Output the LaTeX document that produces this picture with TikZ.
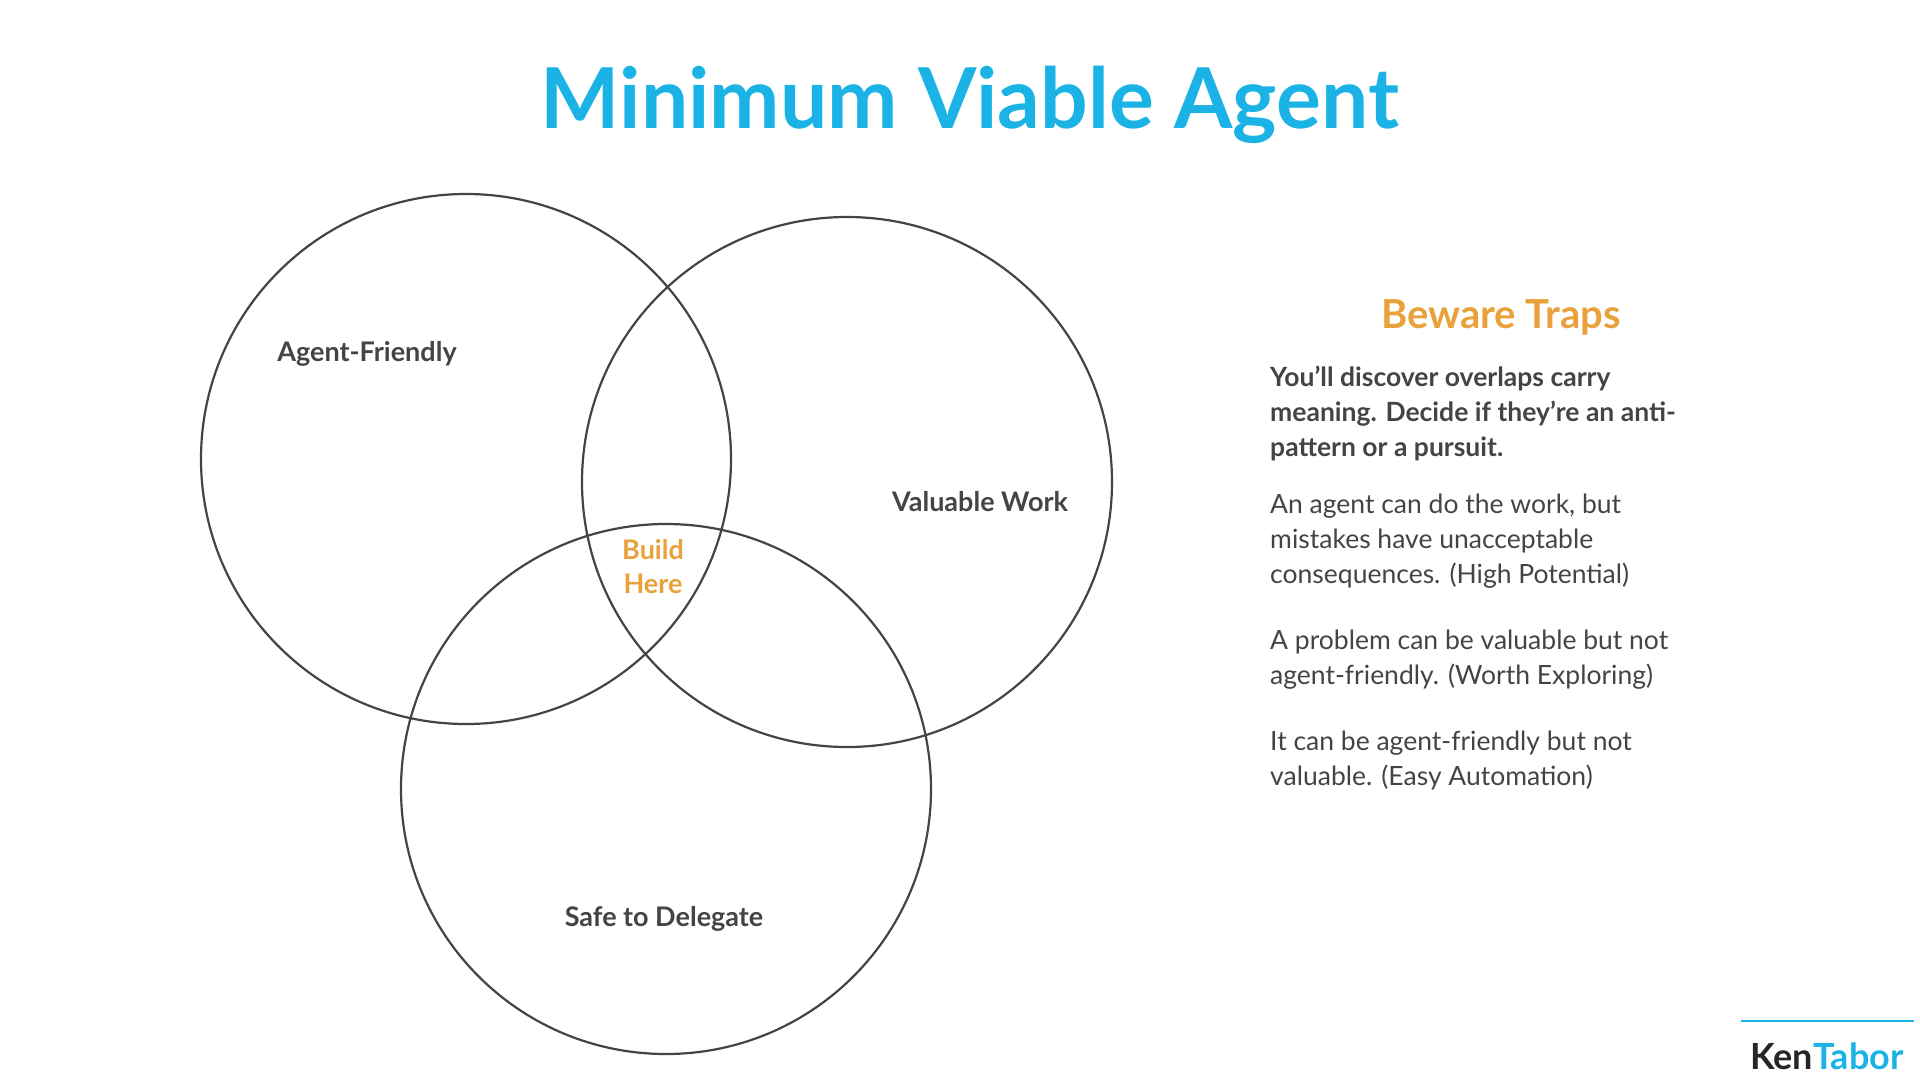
\documentclass[tikz,border=0pt]{standalone}
\usepackage{fontspec}
\setmainfont{Lato}
\definecolor{tblue}{HTML}{1BB3E6}
\definecolor{torange}{HTML}{E9A23B}
\definecolor{tgray}{HTML}{444444}
\begin{document}
\begin{tikzpicture}[x=1pt,y=-1pt,
  circ/.style={draw=tgray,line width=2.2pt},
  lab/.style={font=\fontsize{27}{32}\selectfont\bfseries,text=tgray},
  body/.style={anchor=north west,align=left,text=tgray,font=\fontsize{26.5}{35}\selectfont,inner sep=0pt}]
\useasboundingbox (0,0) rectangle (1920,1080);
\node[font=\fontsize{84}{90}\selectfont\bfseries,text=tblue] (title) at (970,105) {Minimum Viable Agent};
\draw[circ] (466,459) circle (265) coordinate (ca);
\draw[circ] (847,482) circle (265) coordinate (cb);
\draw[circ] (666,789) circle (265) coordinate (cc);
\node[lab] (af) at (367,354) {Agent-Friendly};
\node[lab] (vw) at (980,502) {Valuable Work};
\node[lab] (sd) at (664,919) {Safe to Delegate};
\node[lab,text=torange,align=center,font=\fontsize{27}{34}\selectfont\bfseries] (bh) at (653,567) {Build\\Here};
\node[font=\fontsize{40}{46}\selectfont\bfseries,text=torange] (bt) at (1501,317) {Beware Traps};
\node[body,font=\fontsize{26.5}{35}\selectfont\bfseries] (p1) at (1270,366) {You’ll discover overlaps carry\\meaning. Decide if they’re an anti-\\pattern or a pursuit.};
\node[body] (p2) at (1270,494) {An agent can do the work, but\\mistakes have unacceptable\\consequences. (High Potential)};
\node[body] (p3) at (1270,630) {A problem can be valuable but not\\agent-friendly. (Worth Exploring)};
\node[body] (p4) at (1270,731) {It can be agent-friendly but not\\valuable. (Easy Automation)};
\draw[tblue,line width=2pt] (1741,1021) coordinate (l1) -- (1914,1021) coordinate (l2);
\node[font=\fontsize{36}{40}\selectfont\bfseries,inner sep=0pt] (logo) at (1827,1056) {\textcolor{black!85}{Ken}\textcolor{tblue}{Tabor}};
\end{tikzpicture}
\end{document}
